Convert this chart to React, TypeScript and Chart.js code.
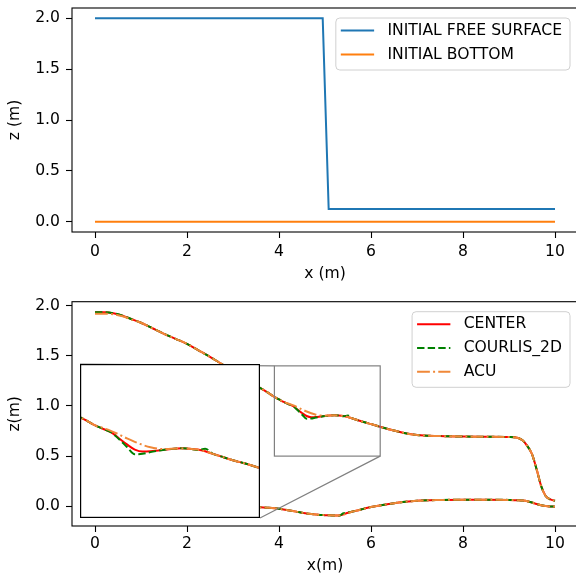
import React, { useEffect, useRef } from "react";
import { Chart, registerables } from "chart.js";

Chart.register(...registerables);

// ---------------- data ----------------
const xTicks = [0, 2, 4, 6, 8, 10];
const zTicks = [0, 0.5, 1.0, 1.5, 2.0];

// top panel: initial state
const initX = [0, 4.95, 5.08, 10];
const initFreeSurface = [2.0, 2.0, 0.125, 0.125];
const initBottomX = [0, 10];
const initBottom = [0, 0];

// bottom panel: results
const resultX = [
  0, 0.2, 0.4, 0.6, 0.8, 1.0, 1.25, 1.5, 1.75, 2.0, 2.25, 2.5, 2.75, 3.0, 3.25, 3.5, 3.75, 3.9, 4.0,
  4.1, 4.2, 4.3, 4.4, 4.5, 4.6, 4.7, 4.8, 4.9, 5.0, 5.1, 5.2, 5.3, 5.4, 5.5, 5.6, 5.7, 5.8, 5.9, 6.0,
  6.25, 6.5, 6.75, 7.0, 7.5, 8.0, 8.5, 9.0, 9.2, 9.3, 9.4, 9.5, 9.6, 9.7, 9.8, 9.9, 10.0,
];

const centerSurface = [
  1.935, 1.935, 1.925, 1.9, 1.865, 1.83, 1.775, 1.72, 1.67, 1.62, 1.555, 1.49, 1.42, 1.35, 1.28, 1.205, 1.135, 1.09, 1.065,
  1.04, 1.02, 1.0, 0.965, 0.93, 0.9, 0.888, 0.89, 0.895, 0.9, 0.905, 0.907, 0.905, 0.9, 0.89, 0.875, 0.86, 0.845, 0.832, 0.82,
  0.785, 0.755, 0.727, 0.71, 0.7, 0.695, 0.693, 0.69, 0.68, 0.655, 0.6, 0.52, 0.37, 0.2, 0.1, 0.068, 0.055,
];
const courlisSurface = [
  1.935, 1.935, 1.925, 1.9, 1.865, 1.83, 1.775, 1.72, 1.67, 1.62, 1.555, 1.49, 1.42, 1.35, 1.28, 1.205, 1.135, 1.09, 1.065,
  1.04, 1.02, 1.0, 0.96, 0.915, 0.872, 0.875, 0.885, 0.893, 0.9, 0.905, 0.907, 0.905, 0.897, 0.905, 0.875, 0.86, 0.845, 0.832, 0.82,
  0.785, 0.755, 0.727, 0.71, 0.7, 0.695, 0.693, 0.69, 0.68, 0.655, 0.6, 0.52, 0.37, 0.2, 0.1, 0.068, 0.055,
];
const acuSurface = [
  1.92, 1.92, 1.915, 1.895, 1.862, 1.83, 1.775, 1.72, 1.67, 1.62, 1.555, 1.49, 1.42, 1.35, 1.28, 1.205, 1.135, 1.09, 1.065,
  1.04, 1.025, 1.008, 0.988, 0.965, 0.945, 0.927, 0.913, 0.905, 0.903, 0.905, 0.907, 0.905, 0.9, 0.89, 0.875, 0.86, 0.845, 0.832, 0.82,
  0.785, 0.755, 0.727, 0.71, 0.7, 0.695, 0.693, 0.69, 0.68, 0.655, 0.6, 0.52, 0.37, 0.2, 0.1, 0.068, 0.055,
];

const centerBed = [
  0, 0, 0, 0, 0, 0, 0, 0, 0, 0, 0, 0, 0, -0.002, -0.004, -0.008, -0.015, -0.02, -0.025,
  -0.032, -0.04, -0.048, -0.056, -0.064, -0.072, -0.078, -0.083, -0.087, -0.089, -0.091, -0.092, -0.092, -0.08, -0.065, -0.053, -0.042, -0.03, -0.018, -0.008,
  0.012, 0.03, 0.045, 0.055, 0.062, 0.065, 0.065, 0.063, 0.06, 0.057, 0.05, 0.037, 0.022, 0.01, 0.002, -0.002, -0.004,
];
const courlisBed = [
  0, 0, 0, 0, 0, 0, 0, 0, 0, 0, 0, 0, 0, -0.002, -0.004, -0.008, -0.015, -0.02, -0.025,
  -0.032, -0.04, -0.048, -0.056, -0.064, -0.072, -0.078, -0.083, -0.087, -0.089, -0.091, -0.092, -0.095, -0.07, -0.062, -0.053, -0.042, -0.03, -0.018, -0.008,
  0.012, 0.03, 0.045, 0.055, 0.062, 0.065, 0.065, 0.063, 0.06, 0.057, 0.05, 0.037, 0.022, 0.01, 0.002, -0.002, -0.004,
];
const acuBed = [
  0, 0, 0, 0, 0, 0, 0, 0, 0, 0, 0, 0, 0, -0.002, -0.004, -0.008, -0.015, -0.02, -0.025,
  -0.032, -0.04, -0.048, -0.056, -0.064, -0.072, -0.078, -0.083, -0.087, -0.089, -0.091, -0.092, -0.092, -0.085, -0.07, -0.053, -0.042, -0.03, -0.018, -0.008,
  0.012, 0.03, 0.045, 0.055, 0.062, 0.065, 0.065, 0.063, 0.06, 0.057, 0.05, 0.037, 0.022, 0.01, 0.002, -0.002, -0.004,
];

// zoomed window shown in the inset
const zoomX = [3.9, 6.2];
const zoomZ = [0.5, 1.4];

// ---------------- styles / layout ----------------
const FONT_FAMILY = "'DejaVu Sans', sans-serif";
const FONT_SIZE = 15.6;
const FONT = { family: FONT_FAMILY, size: FONT_SIZE };

const C_BLUE = "#1f77b4";
const C_ORANGE = "#ff7f0e";
const C_RED = "#ff0000";
const C_GREEN = "#008000";
const C_ACU = "#f08838";
const LW = 2;
const DASHED = [7.4, 3.2];
const DASHDOT = [12.8, 3.2, 2, 3.2];

const CANVAS_W = 580;
const TOP_H = 290;
const BOT_TOP = 290;
const BOT_H = 286;
const INSET = { left: 80, top: 364, width: 180, height: 154 };

const pts = (xs: number[], ys: number[]) => xs.map((x, i) => ({ x, y: ys[i] }));

function lineDs(label: string, xs: number[], ys: number[], color: string, dash: number[] = [], order = 0, smooth = true) {
  const ds: any = {
    label,
    data: pts(xs, ys),
    borderColor: color,
    backgroundColor: color,
    borderWidth: LW,
    borderDash: dash,
    pointRadius: 0,
    pointHoverRadius: 0,
    tension: 0,
    fill: false,
    order,
  };
  if (smooth) ds.cubicInterpolationMode = "monotone";
  return ds;
}

const framePlugin = {
  id: "frame",
  afterDatasetsDraw(chart: any) {
    const { ctx, chartArea } = chart;
    ctx.save();
    ctx.strokeStyle = "#000";
    ctx.lineWidth = 1.1;
    ctx.strokeRect(chartArea.left, chartArea.top, chartArea.right - chartArea.left, chartArea.bottom - chartArea.top);
    ctx.restore();
  },
};

type LegendItem = { label: string; color: string; dash: number[] };

function legendPlugin(items: LegendItem[], rowH: number) {
  return {
    id: "customLegend",
    afterDraw(chart: any) {
      const { ctx, chartArea } = chart;
      ctx.save();
      ctx.font = `${FONT_SIZE}px ${FONT_FAMILY}`;
      const maxW = Math.max(...items.map((it) => ctx.measureText(it.label).width));
      const textEnd = chartArea.right - 16;
      const textStart = textEnd - maxW;
      const lineEnd = textStart - 13.3;
      const lineStart = lineEnd - 33.3;
      const boxL = lineStart - 5;
      const boxR = textEnd + 8;
      const boxT = chartArea.top + 10;
      const firstRow = boxT + 12.5;
      const boxB = firstRow + rowH * (items.length - 1) + 15.5;
      const r = 4;
      ctx.beginPath();
      ctx.moveTo(boxL + r, boxT);
      ctx.lineTo(boxR - r, boxT);
      ctx.arcTo(boxR, boxT, boxR, boxT + r, r);
      ctx.lineTo(boxR, boxB - r);
      ctx.arcTo(boxR, boxB, boxR - r, boxB, r);
      ctx.lineTo(boxL + r, boxB);
      ctx.arcTo(boxL, boxB, boxL, boxB - r, r);
      ctx.lineTo(boxL, boxT + r);
      ctx.arcTo(boxL, boxT, boxL + r, boxT, r);
      ctx.closePath();
      ctx.fillStyle = "rgba(255,255,255,0.8)";
      ctx.fill();
      ctx.strokeStyle = "#d0d0d0";
      ctx.lineWidth = 1;
      ctx.stroke();
      items.forEach((it, i) => {
        const y = firstRow + i * rowH;
        ctx.beginPath();
        ctx.setLineDash(it.dash);
        ctx.strokeStyle = it.color;
        ctx.lineWidth = LW;
        ctx.moveTo(lineStart, y);
        ctx.lineTo(lineEnd, y);
        ctx.stroke();
        ctx.setLineDash([]);
        ctx.fillStyle = "#000";
        ctx.textAlign = "left";
        ctx.textBaseline = "middle";
        ctx.fillText(it.label, textStart, y);
      });
      ctx.restore();
    },
  };
}

const insetMarkPlugin = {
  id: "insetMark",
  afterDatasetsDraw(chart: any) {
    const { ctx } = chart;
    const xs = chart.scales.x;
    const ys = chart.scales.y;
    const rl = xs.getPixelForValue(zoomX[0]);
    const rr = xs.getPixelForValue(zoomX[1]);
    const rt = ys.getPixelForValue(zoomZ[1]);
    const rb = ys.getPixelForValue(zoomZ[0]);
    const iL = INSET.left;
    const iT = INSET.top - BOT_TOP;
    const iR = INSET.left + INSET.width;
    const iB = iT + INSET.height;
    ctx.save();
    ctx.strokeStyle = "#808080";
    ctx.lineWidth = 1.2;
    ctx.strokeRect(rl, rt, rr - rl, rb - rt);
    ctx.beginPath();
    ctx.moveTo(iL, iT);
    ctx.lineTo(rl, rt);
    ctx.moveTo(iR, iB);
    ctx.lineTo(rr, rb);
    ctx.stroke();
    ctx.restore();
  },
};

function xScale(title: string, axisH: number, tickPad: number, titlePadBottom: number) {
  return {
    type: "linear" as const,
    min: -0.5,
    max: 10.5,
    afterBuildTicks: (s: any) => {
      s.ticks = xTicks.map((v) => ({ value: v }));
    },
    afterFit: (s: any) => {
      s.height = axisH;
      s.paddingLeft = 0;
      s.paddingRight = 0;
    },
    grid: { drawOnChartArea: false, drawTicks: true, tickLength: 6, tickWidth: 1.1, tickColor: "#000" },
    border: { display: false },
    ticks: {
      color: "#000",
      font: FONT,
      padding: tickPad,
      maxRotation: 0,
      autoSkip: false,
      callback: (v: any) => String(v),
    },
    title: { display: true, text: title, color: "#000", font: FONT, padding: { top: 0, bottom: titlePadBottom } },
  };
}

function yScale(title: string, min: number, max: number) {
  return {
    type: "linear" as const,
    min,
    max,
    afterBuildTicks: (s: any) => {
      s.ticks = zTicks.map((v) => ({ value: v }));
    },
    afterFit: (s: any) => {
      s.width = 72;
      s.paddingTop = 0;
      s.paddingBottom = 0;
    },
    grid: { drawOnChartArea: false, drawTicks: true, tickLength: 6, tickWidth: 1.1, tickColor: "#000" },
    border: { display: false },
    ticks: {
      color: "#000",
      font: FONT,
      padding: 6,
      autoSkip: false,
      callback: (v: any) => Number(v).toFixed(1),
    },
    title: { display: true, text: title, color: "#000", font: FONT, padding: { top: 6, bottom: 0 } },
  };
}

const baseOptions = {
  responsive: false,
  maintainAspectRatio: false,
  animation: false as const,
  devicePixelRatio: 1,
  events: [] as any[],
};

export default function App() {
  const topRef = useRef<HTMLCanvasElement>(null);
  const botRef = useRef<HTMLCanvasElement>(null);
  const insetRef = useRef<HTMLCanvasElement>(null);

  useEffect(() => {
    Chart.defaults.font.family = FONT_FAMILY;
    Chart.defaults.color = "#000";
    const charts: Chart[] = [];

    charts.push(
      new Chart(topRef.current!, {
        type: "line",
        data: {
          datasets: [
            lineDs("INITIAL FREE SURFACE", initX, initFreeSurface, C_BLUE, [], 1, false),
            lineDs("INITIAL BOTTOM", initBottomX, initBottom, C_ORANGE, [], 0, false),
          ],
        },
        options: {
          ...baseOptions,
          layout: { padding: { top: 8, right: 2, left: 0, bottom: 0 } },
          scales: { x: xScale("x (m)", TOP_H - 232, 5, 7) as any, y: yScale("z (m)", -0.1, 2.1) as any },
          plugins: { legend: { display: false }, tooltip: { enabled: false } },
        },
        plugins: [
          framePlugin,
          legendPlugin(
            [
              { label: "INITIAL FREE SURFACE", color: C_BLUE, dash: [] },
              { label: "INITIAL BOTTOM", color: C_ORANGE, dash: [] },
            ],
            24
          ),
        ],
      })
    );

    const resultSets = () => [
      lineDs("CENTER", resultX, centerSurface, C_RED, [], 4),
      lineDs("CENTER bed", resultX, centerBed, C_RED, [], 5),
      lineDs("COURLIS_2D", resultX, courlisSurface, C_GREEN, DASHED, 2),
      lineDs("COURLIS_2D bed", resultX, courlisBed, C_GREEN, DASHED, 3),
      lineDs("ACU", resultX, acuSurface, C_ACU, DASHDOT, 0),
      lineDs("ACU bed", resultX, acuBed, C_ACU, DASHDOT, 1),
    ];

    charts.push(
      new Chart(botRef.current!, {
        type: "line",
        data: { datasets: resultSets() },
        options: {
          ...baseOptions,
          layout: { padding: { top: 11.7, right: 2, left: 0, bottom: 0 } },
          scales: { x: xScale("x(m)", BOT_H - 236, 3, 1) as any, y: yScale("z(m)", -0.197, 2.04) as any },
          plugins: { legend: { display: false }, tooltip: { enabled: false } },
        },
        plugins: [
          insetMarkPlugin,
          framePlugin,
          legendPlugin(
            [
              { label: "CENTER", color: C_RED, dash: [] },
              { label: "COURLIS_2D", color: C_GREEN, dash: DASHED },
              { label: "ACU", color: C_ACU, dash: DASHDOT },
            ],
            23.8
          ),
        ],
      })
    );

    charts.push(
      new Chart(insetRef.current!, {
        type: "line",
        data: { datasets: resultSets() },
        options: {
          ...baseOptions,
          layout: { padding: 0 },
          scales: {
            x: { type: "linear", min: zoomX[0], max: zoomX[1], display: false },
            y: { type: "linear", min: zoomZ[0], max: zoomZ[1], display: false },
          },
          plugins: { legend: { display: false }, tooltip: { enabled: false } },
        },
        plugins: [
          {
            id: "insetBg",
            beforeDraw(chart: any) {
              const { ctx, width, height } = chart;
              ctx.save();
              ctx.fillStyle = "#fff";
              ctx.fillRect(0, 0, width, height);
              ctx.restore();
            },
          },
          {
            id: "insetFrame",
            afterDatasetsDraw(chart: any) {
              const { ctx, width, height } = chart;
              ctx.save();
              ctx.strokeStyle = "#000";
              ctx.lineWidth = 1.2;
              ctx.strokeRect(0.6, 0.6, width - 1.2, height - 1.2);
              ctx.restore();
            },
          },
        ],
      })
    );

    return () => charts.forEach((c) => c.destroy());
  }, []);

  return (
    <div
      style={{
        position: "fixed",
        left: 0,
        top: 0,
        width: 576,
        height: 576,
        overflow: "hidden",
        background: "#fff",
      }}
    >
      <canvas
        ref={topRef}
        width={CANVAS_W}
        height={TOP_H}
        style={{ position: "absolute", left: 0, top: 0, width: CANVAS_W, height: TOP_H }}
      />
      <canvas
        ref={botRef}
        width={CANVAS_W}
        height={BOT_H}
        style={{ position: "absolute", left: 0, top: BOT_TOP, width: CANVAS_W, height: BOT_H }}
      />
      <canvas
        ref={insetRef}
        width={INSET.width}
        height={INSET.height}
        style={{ position: "absolute", left: INSET.left, top: INSET.top, width: INSET.width, height: INSET.height }}
      />
    </div>
  );
}
